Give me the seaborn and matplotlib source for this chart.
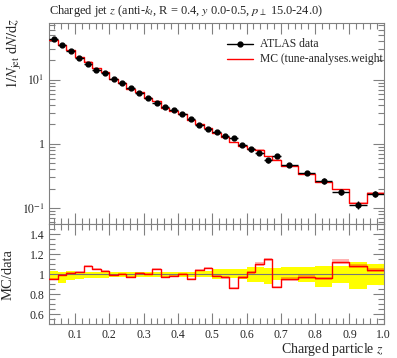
import numpy as np
import pandas as pd
import matplotlib
matplotlib.use("Agg")
import matplotlib.pyplot as plt
import seaborn as sns
from matplotlib.ticker import FixedLocator, MultipleLocator, LogLocator, FuncFormatter, NullFormatter

# ---------------- data ----------------
bin_edges = [0.025, 0.05, 0.075, 0.1, 0.125, 0.15, 0.175, 0.2, 0.225, 0.25, 0.275,
             0.3, 0.325, 0.35, 0.375, 0.4, 0.425, 0.45, 0.475, 0.5, 0.525, 0.55,
             0.575, 0.6, 0.625, 0.65, 0.675, 0.7, 0.75, 0.8, 0.85, 0.9, 0.95, 1.0]

data_vals = [43.4, 35.0, 28.2, 21.9, 17.7, 14.1, 12.5, 10.3, 8.91, 7.36, 6.22,
             5.20, 4.34, 3.71, 3.33, 2.86, 2.44, 1.94, 1.67, 1.51, 1.32, 1.23,
             0.97, 0.82, 0.73, 0.552, 0.645, 0.473, 0.35, 0.266, 0.175, 0.112, 0.167]

data_err_up = [0.033, 0.027, 0.033, 0.027, 0.023, 0.023, 0.023, 0.02, 0.02, 0.02, 0.02,
               0.02, 0.02, 0.02, 0.02, 0.025, 0.025, 0.03, 0.03, 0.05, 0.057, 0.057,
               0.057, 0.07, 0.07, 0.063, 0.063, 0.07, 0.077, 0.083, 0.083, 0.127, 0.103]
data_err_dn = [0.05, 0.083, 0.057, 0.047, 0.033, 0.033, 0.033, 0.023, 0.023, 0.023, 0.023,
               0.023, 0.023, 0.023, 0.023, 0.03, 0.03, 0.03, 0.03, 0.05, 0.04, 0.04,
               0.05, 0.08, 0.08, 0.093, 0.06, 0.057, 0.073, 0.123, 0.09, 0.15, 0.107]

mc_vals = [41.4, 34.8, 28.7, 22.4, 19.1, 14.9, 12.96, 10.23, 8.97, 7.14, 6.30,
           5.24, 4.56, 3.60, 3.27, 2.86, 2.33, 2.03, 1.77, 1.48, 1.28, 1.06,
           0.94, 0.836, 0.805, 0.635, 0.563, 0.451, 0.342, 0.255, 0.197, 0.121, 0.174]
mc_err_rel = [0.01] * 20 + [0.015] * 7 + [0.02] * 6

title = r"Charged jet $z$ (anti-$k_t$, R = 0.4, $y$ 0.0-0.5, $p_\perp$ 15.0-24.0)"
ylabel_main = r"$1/N_\mathrm{jet}\;\mathrm{d}N/\mathrm{d}z$"
ylabel_ratio = "MC/data"
xlabel = r"Charged particle $z$"
legend_labels = ["ATLAS data", "MC (tune-analyses.weight"]
xtick_vals = [0.1, 0.2, 0.3, 0.4, 0.5, 0.6, 0.7, 0.8, 0.9, 1.0]
ratio_ticks = [0.6, 0.8, 1.0, 1.2, 1.4]

# ---------------- derived ----------------
edges = np.array(bin_edges)
centers = 0.5 * (edges[:-1] + edges[1:])
halfw = 0.5 * np.diff(edges)
data = np.array(data_vals)
mc = np.array(mc_vals)
eu = np.array(data_err_up)
ed = np.array(data_err_dn)
mce = np.array(mc_err_rel)
ratio = mc / data

def stepy(v):
    v = np.asarray(v)
    return np.append(v, v[-1])

sns.set_style("ticks")
plt.rcParams["font.family"] = ["Liberation Serif", "DejaVu Serif"]
plt.rcParams["mathtext.fontset"] = "stix"

W, H = 397, 358
fig = plt.figure(figsize=(W / 100, H / 100), dpi=100)
ax = fig.add_axes([0.1242, 0.3735, 0.8425, 0.5614])
rax = fig.add_axes([0.1242, 0.0941, 0.8425, 0.2794])

frame_col = "#808080"

# ---- main panel ----
ax.fill_between(edges, stepy(mc * (1 - mce)), stepy(mc * (1 + mce)), step="post",
                color="red", alpha=0.3, lw=0, zorder=2)
df_mc = pd.DataFrame({"z": edges, "v": stepy(mc)})
sns.lineplot(data=df_mc, x="z", y="v", drawstyle="steps-post", color="red", lw=1.0,
             ax=ax, estimator=None, sort=False, zorder=3)
ax.errorbar(centers, data, xerr=halfw, yerr=[data * ed, data * eu], fmt="o",
            color="black", ms=3.5, lw=1.0, capsize=0, zorder=4)
ax.set_yscale("log")
ax.set_xlim(0.025, 1.0)
ax.set_ylim(0.0557, 75.3)
ax.set_xlabel("")
ax.set_ylabel("")
ax.set_title(title, loc="left", fontsize=8.9, pad=7)

def logfmt(v, pos):
    if abs(v - 1) < 1e-9:
        return "1"
    e = int(round(np.log10(v)))
    return r"$10^{%d}$" % e
ax.yaxis.set_major_locator(LogLocator(base=10, numticks=10))
ax.yaxis.set_minor_locator(LogLocator(base=10, subs=np.arange(2, 10), numticks=20))
ax.yaxis.set_major_formatter(FuncFormatter(logfmt))
ax.yaxis.set_minor_formatter(NullFormatter())
ax.xaxis.set_major_locator(FixedLocator(xtick_vals))
ax.xaxis.set_minor_locator(MultipleLocator(0.02))
ax.xaxis.set_major_formatter(NullFormatter())

# y label placed at the top-left, like the reference
fig.text(15 / W, 1 - 18 / H, ylabel_main, rotation=90, ha="center", va="top", fontsize=10.5)

# legend (manual, clipped at axes edge)
ax.plot([0.531, 0.609], [0.897, 0.897], transform=ax.transAxes, color="black", lw=1.0)
ax.plot([0.570], [0.897], transform=ax.transAxes, marker="o", color="black", ms=3.5)
ax.plot([0.531, 0.609], [0.821, 0.821], transform=ax.transAxes, color="red", lw=1.0)
ax.text(0.630, 0.897, legend_labels[0], transform=ax.transAxes, va="center", ha="left",
        fontsize=8.4, clip_on=True)
ax.text(0.630, 0.821, legend_labels[1], transform=ax.transAxes, va="center", ha="left",
        fontsize=8.4, clip_on=True)

# ---- ratio panel ----
rax.fill_between(edges, stepy(1 - ed), stepy(1 + eu), step="post", color="#ffff00",
                 lw=0, zorder=1)
rax.axhline(1.0, color="#777777", lw=0.8, zorder=2)
rax.fill_between(edges, stepy(ratio * (1 - mce)), stepy(ratio * (1 + mce)), step="post",
                 color="red", alpha=0.3, lw=0, zorder=3)
df_r = pd.DataFrame({"z": edges, "r": stepy(ratio)})
sns.lineplot(data=df_r, x="z", y="r", drawstyle="steps-post", color="red", lw=1.0,
             ax=rax, estimator=None, sort=False, zorder=4)
rax.set_xlim(0.025, 1.0)
rax.set_ylim(0.5, 1.5)
rax.yaxis.set_major_locator(FixedLocator(ratio_ticks))
rax.yaxis.set_major_formatter(FuncFormatter(lambda v, p: "%g" % v))
rax.yaxis.set_minor_locator(MultipleLocator(0.05))
rax.xaxis.set_major_locator(FixedLocator(xtick_vals))
rax.xaxis.set_major_formatter(FuncFormatter(lambda v, p: "%.1f" % v))
rax.xaxis.set_minor_locator(MultipleLocator(0.02))
rax.set_xlabel(xlabel, fontsize=10, loc="right")
rax.xaxis.set_label_coords(1.0, -0.165)
rax.set_ylabel(ylabel_ratio, fontsize=10.5)
rax.yaxis.set_label_coords(-0.105, 0.5)

for a in (ax, rax):
    a.tick_params(which="both", direction="in", top=True, right=True, color=frame_col,
                  width=0.8, labelsize=8.5)
    a.tick_params(which="major", length=8)
    a.tick_params(which="minor", length=4)
    for s in a.spines.values():
        s.set_color(frame_col)
        s.set_linewidth(0.8)

fig.savefig("out.png", dpi=100)
